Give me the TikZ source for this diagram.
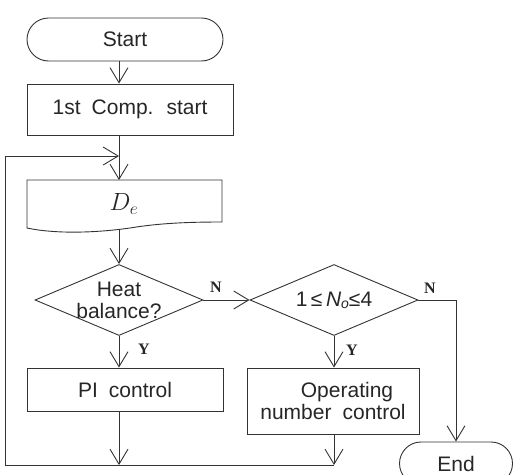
\documentclass[tikz,border=0pt]{standalone}
\usepackage{fontspec}
\setmainfont[WordSpace=1.9]{Liberation Sans}
\newfontfamily\ynfont{Liberation Serif}
\usetikzlibrary{arrows.meta,shapes.geometric}

\begin{document}
\begin{tikzpicture}[x=1pt,y=-1pt,line width=0.9pt,draw=black!80,
  every node/.style={text=black!85,font=\fontsize{21}{22}\selectfont},
  term/.style={draw,rounded corners=21.5pt,minimum height=43pt,inner sep=0pt},
  box/.style={draw,inner sep=0pt},
  dec/.style={draw,diamond,minimum width=168pt,minimum height=71pt,inner sep=0pt},
  yn/.style={font=\ynfont\bfseries\fontsize{16}{16}\selectfont},
  flow/.style={-{Straight Barb[length=15pt,width=18pt]}}]
\useasboundingbox (0,0) rectangle (527,474);

\node[term,minimum width=196pt] (start) at (125,39.5) {Start};
\node[box,minimum width=206pt,minimum height=51pt] (comp) at (130,109.5) {1st Comp. start};
\draw (27,180) -- (222,180) -- (222,222)
  .. controls (190,222) and (160,223) .. (130,228)
  .. controls (95,233) and (55,234) .. (27,228) -- cycle;
\coordinate (docin) at (119,180);
\coordinate (docout) at (119,229);
\node (de) at (124,204) {\fontsize{25}{25}\selectfont$D_e$};
\node[dec] (hb) at (119,300) {};
\node[align=center] (hbtxt) at (hb) {Heat\\balance?};
\node[dec] (nd) at (334,300) {};
\node (ndtxt) at (nd) {1\,≤\,\textit{N}\raisebox{-2pt}{\fontsize{14}{14}\selectfont\textit{o}}≤4};
\node[box,minimum width=196pt,minimum height=43pt] (pi) at (125,389.5) {PI control};
\node[box,minimum width=172pt,minimum height=66pt,align=center] (op) at (333,401) {\hspace*{28pt}Operating\\number control};
\node[term,minimum width=113pt] (endt) at (456,463.5) {End};

\coordinate (tl) at (5,156);
\coordinate (bl) at (5,465);

\draw[flow] (start.south -| hb) -- (comp.north -| hb);
\draw[flow] (comp.south -| hb) -- (docin);
\draw[flow] (docout) -- (hb.north);
\draw[flow] (hb.south) -- (pi.north -| hb);
\draw[flow] (hb.east) -- (nd.west);
\draw[flow] (nd.south) -- (op.north -| nd);
\draw[flow] (nd.east) -| (endt.north);
\draw[flow] (pi.south -| hb) -- (hb |- bl);
\draw[flow] (op.south -| nd) -- (nd |- bl);
\draw[flow] (nd |- bl) -- (bl) -- (tl) -- (hb |- tl);

\node[yn] (n1) at (216,287) {N};
\node[yn] (n2) at (430,288) {N};
\node[yn] (y1) at (144,349) {Y};
\node[yn] (y2) at (352,350) {Y};
\end{tikzpicture}
\end{document}
